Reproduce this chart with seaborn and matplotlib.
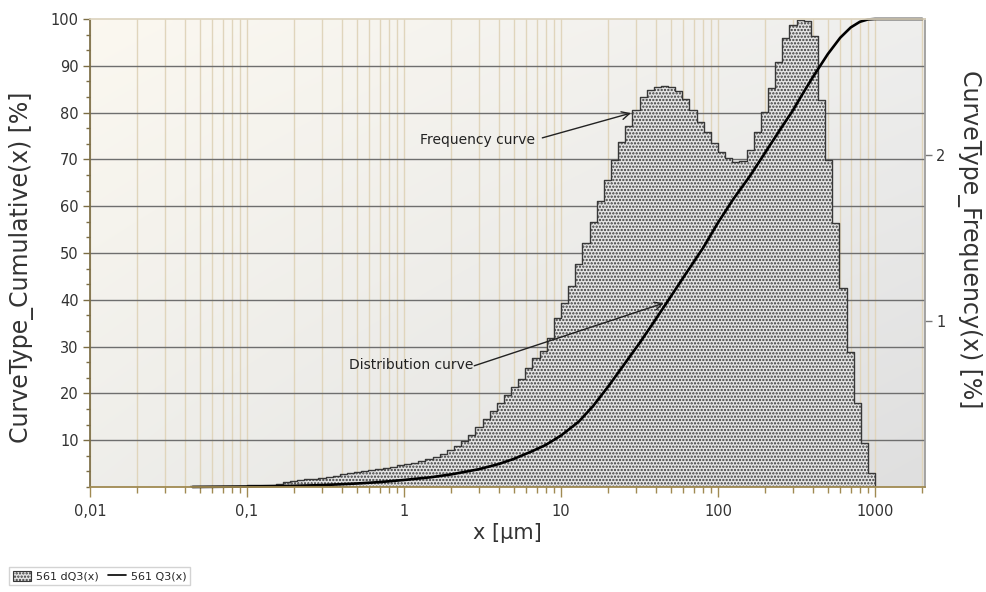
import numpy as np
import matplotlib
matplotlib.use("Agg")
import matplotlib.pyplot as plt
import seaborn as sns
from matplotlib.ticker import FixedLocator, LogLocator, NullFormatter, FixedFormatter, MultipleLocator
from matplotlib.patches import Patch
from matplotlib.lines import Line2D

# ---------------- data ----------------
# channel (bin) edges in µm
edges = [0.04329, 0.04806, 0.05337, 0.05926, 0.06579, 0.07305, 0.08111, 0.09006,
         0.1, 0.111, 0.1233, 0.1369, 0.152, 0.1688, 0.1874, 0.2081, 0.231, 0.2565, 0.2848,
         0.3162, 0.3511, 0.3899, 0.4329, 0.4806, 0.5337, 0.5926, 0.6579, 0.7305, 0.8111, 0.9006,
         1.0, 1.11, 1.233, 1.369, 1.52, 1.688, 1.874, 2.081, 2.31, 2.565, 2.848,
         3.162, 3.511, 3.899, 4.329, 4.806, 5.337, 5.926, 6.579, 7.305, 8.111, 9.006,
         10.0, 11.1, 12.33, 13.69, 15.2, 16.88, 18.74, 20.81, 23.1, 25.65, 28.48,
         31.62, 35.11, 38.99, 43.29, 48.06, 53.37, 59.26, 65.79, 73.05, 81.11, 90.06,
         100.0, 111.0, 123.3, 136.9, 152.0, 168.8, 187.4, 208.1, 231.0, 256.5, 284.8,
         316.2, 351.1, 389.9, 432.9, 480.6, 533.7, 592.6, 657.9, 730.5, 811.1, 900.6,
         1000.0]

# frequency dQ3 per channel [%]
dq3 = [0.009, 0.009, 0.009, 0.009, 0.009, 0.009, 0.009, 0.009,
       0.010, 0.011, 0.012, 0.015, 0.021, 0.030, 0.036, 0.041, 0.046, 0.051, 0.057,
       0.063, 0.069, 0.078, 0.084, 0.090, 0.096, 0.102, 0.108, 0.116, 0.122, 0.130,
       0.136, 0.145, 0.157, 0.169, 0.181, 0.199, 0.223, 0.247, 0.277, 0.313, 0.361,
       0.410, 0.458, 0.506, 0.554, 0.602, 0.651, 0.717, 0.777, 0.819, 0.898, 1.018,
       1.108, 1.211, 1.343, 1.470, 1.596, 1.723, 1.849, 1.970, 2.078, 2.175, 2.271,
       2.349, 2.392, 2.410, 2.416, 2.410, 2.386, 2.337, 2.271, 2.199, 2.139, 2.072,
       2.018, 1.982, 1.958, 1.964, 2.030, 2.139, 2.259, 2.404, 2.560, 2.705, 2.783,
       2.813, 2.807, 2.717, 2.334, 1.970, 1.590, 1.199, 0.813, 0.506, 0.265, 0.084]

# cumulative distribution Q3 [%]
q3_x = [0.045, 0.1, 0.2, 0.3, 0.5, 0.7, 1.0, 1.5, 2.0, 3.0, 4.0, 5.0, 6.5, 8.0,
        10, 13, 16, 20, 25, 32, 40, 50, 63, 80, 100, 125, 160, 200, 250, 300,
        350, 400, 500, 600, 700, 800, 900, 1000, 2000]
q3_y = [0.0, 0.1, 0.25, 0.4, 0.75, 1.05, 1.5, 2.1, 2.7, 3.8, 4.9, 6.0, 7.6, 9.0,
        11.0, 14.0, 17.3, 21.5, 26.0, 31.0, 35.8, 40.7, 45.8, 51.0, 56.5, 61.5, 66.5, 71.5, 76.5, 80.5,
        84.3, 87.5, 92.5, 96.0, 98.2, 99.4, 99.9, 100, 100]

x_tick_values = [0.01, 0.1, 1, 10, 100, 1000]
x_tick_labels = ["0,01", "0,1", "1", "10", "100", "1000"]
left_ticks = [10, 20, 30, 40, 50, 60, 70, 80, 90, 100]
left_tick_labels = ["10", "20", "30", "40", "50", "60", "70", "80", "90", "100"]
grid_levels = [10, 20, 30, 40, 50, 60, 70, 80, 90]
right_ticks = [1, 2]
right_tick_labels = ["1", "2"]
legend_labels = ["561 dQ3(x)", "561 Q3(x)"]

# ---------------- style ----------------
sns.set_theme(style="ticks")
plt.rcParams["font.family"] = ["DejaVu Sans"]
plt.rcParams["hatch.linewidth"] = 1.1

fig = plt.figure(figsize=(9.86, 5.92), dpi=100)
px_l, px_r, px_t, px_b = 90, 925, 19, 487
rect = [px_l / 986, 1 - px_b / 592, (px_r - px_l) / 986, (px_b - px_t) / 592]
XLIM = (0.01, 2080)
YMAX_R = 2.82

HIST_FACE = "#e4e4e4"
HIST_EDGE = "#383838"

# background gradient
ax_bg = fig.add_axes(rect, zorder=0)
ax_bg.axis("off")
u = np.linspace(0, 1, 60)
U, V = np.meshgrid(u, u)  # U: left->right, V: top->bottom
tl = np.array([0.985, 0.972, 0.940])
tr = np.array([0.935, 0.935, 0.930])
bl = np.array([0.935, 0.933, 0.918])
br = np.array([0.875, 0.875, 0.875])
img = (tl * ((1 - U) * (1 - V))[..., None] + tr * (U * (1 - V))[..., None]
       + bl * ((1 - U) * V)[..., None] + br * (U * V)[..., None])
ax_bg.imshow(img, extent=[0, 1, 0, 1], aspect="auto", interpolation="bilinear")
ax_bg.set_xlim(0, 1)
ax_bg.set_ylim(0, 1)

# grid layer
ax_g = fig.add_axes(rect, zorder=1)
ax_g.patch.set_visible(False)
ax_g.set_xscale("log")
ax_g.set_xlim(XLIM)
ax_g.set_ylim(0, 100)
ax_g.xaxis.set_major_locator(FixedLocator(x_tick_values))
ax_g.xaxis.set_minor_locator(LogLocator(base=10, subs=np.arange(2, 10), numticks=60))
ax_g.yaxis.set_major_locator(FixedLocator(grid_levels))
ax_g.grid(True, which="both", axis="x", color="#e0d5bc", lw=1)
ax_g.grid(True, which="major", axis="y", color="#6e6e6e", lw=1)
ax_g.tick_params(which="both", length=0, labelbottom=False, labelleft=False)
for s in ax_g.spines.values():
    s.set_visible(False)

# histogram layer (right axis)
ax_h = fig.add_axes(rect, zorder=2)
ax_h.patch.set_visible(False)
centers = np.sqrt(np.array(edges[:-1]) * np.array(edges[1:]))
log_bins = [float(v) for v in np.log10(edges)]
sns.histplot(x=centers, weights=dq3, bins=log_bins, log_scale=True,
             element="step", fill=True, ax=ax_h, facecolor=HIST_FACE,
             edgecolor=HIST_EDGE, linewidth=1.0, hatch=".....", alpha=1)
ax_h.set_xlim(XLIM)
ax_h.set_ylim(0, YMAX_R)
ax_h.set_xlabel("")
ax_h.yaxis.set_label_position("right")
ax_h.yaxis.tick_right()
ax_h.set_yticks(right_ticks)
ax_h.set_yticklabels(right_tick_labels)
ax_h.tick_params(axis="y", which="both", right=True, left=False, labelright=True,
                 labelleft=False, direction="out", length=5, width=1,
                 color="#777777", labelsize=10.5, labelcolor="#333333", pad=3)
ax_h.tick_params(axis="x", which="both", bottom=False, top=False, labelbottom=False)
ax_h.set_ylabel("CurveType_Frequency(x) [%]", fontsize=17, color="#333333",
                rotation=270, va="bottom", labelpad=8)
ax_h.yaxis.label.set_y(0.53)
for name, s in ax_h.spines.items():
    s.set_visible(name == "right")
ax_h.spines["right"].set_color("#9a9a9a")

# cumulative layer (left axis, on top)
ax_t = fig.add_axes(rect, zorder=3)
ax_t.patch.set_visible(False)
ax_t.set_xscale("log")
sns.lineplot(x=q3_x, y=q3_y, ax=ax_t, color="black", lw=1.9, sort=False)
for ln in ax_t.lines:
    ln.set_clip_on(False)
    ln.set_solid_capstyle("round")
ax_t.set_xlim(XLIM)
ax_t.set_ylim(0, 100)
ax_t.xaxis.set_major_locator(FixedLocator(x_tick_values))
ax_t.xaxis.set_major_formatter(FixedFormatter(x_tick_labels))
ax_t.xaxis.set_minor_locator(LogLocator(base=10, subs=np.arange(2, 10), numticks=60))
ax_t.xaxis.set_minor_formatter(NullFormatter())
ax_t.yaxis.set_major_locator(FixedLocator(left_ticks))
ax_t.yaxis.set_major_formatter(FixedFormatter(left_tick_labels))
ax_t.yaxis.set_minor_locator(MultipleLocator(10 / 3))
ax_t.tick_params(axis="x", which="major", bottom=True, direction="out", length=7,
                 width=1, color="#a08a52", labelsize=10.5, labelcolor="#333333", pad=5)
ax_t.tick_params(axis="x", which="minor", bottom=True, direction="out", length=4,
                 width=1, color="#a08a52")
ax_t.tick_params(axis="y", which="major", left=True, right=False, direction="out",
                 length=5, width=1, color="#7b6d45", labelsize=10.5,
                 labelcolor="#333333", pad=3)
ax_t.tick_params(axis="y", which="minor", left=True, right=False, direction="out",
                 length=3, width=1, color="#7b6d45")
ax_t.spines["left"].set_color("#7b6d45")
ax_t.spines["bottom"].set_color("#a08a52")
ax_t.spines["bottom"].set_linewidth(1.3)
ax_t.spines["top"].set_color("#ddd4bf")
ax_t.spines["right"].set_visible(False)
ax_t.set_xlabel("x [µm]", fontsize=15, color="#333333", labelpad=3)
ax_t.set_ylabel("CurveType_Cumulative(x) [%]", fontsize=17, color="#333333", labelpad=12)
ax_t.yaxis.label.set_y(0.47)

# annotations
ax_t.text(2.95, 74.1, "Frequency curve", ha="center", va="center", fontsize=10, color="#222222")
ax_t.annotate("", xy=(27.9, 79.9), xytext=(7.6, 74.6),
              arrowprops=dict(arrowstyle="->", color="#222222", lw=1.0,
                              shrinkA=0, shrinkB=0, mutation_scale=14))
ax_t.text(1.107, 26.1, "Distribution curve", ha="center", va="center", fontsize=10, color="#222222")
ax_t.annotate("", xy=(45.2, 39.3), xytext=(2.8, 25.9),
              arrowprops=dict(arrowstyle="->", color="#222222", lw=1.0,
                              shrinkA=0, shrinkB=0, mutation_scale=14))

# legend
handles = [Patch(facecolor=HIST_FACE, edgecolor=HIST_EDGE, hatch=".....", lw=0.8),
           Line2D([], [], color="black", lw=1.2)]
fig.legend(handles=handles, labels=legend_labels, loc="lower left",
           bbox_to_anchor=(0.004, 0.002), ncol=2, fontsize=8, frameon=True,
           fancybox=False, edgecolor="#c8c8c8", handlelength=1.6, handleheight=1.0,
           columnspacing=0.9, borderpad=0.35, handletextpad=0.4)

fig.savefig("out.png", dpi=100)
